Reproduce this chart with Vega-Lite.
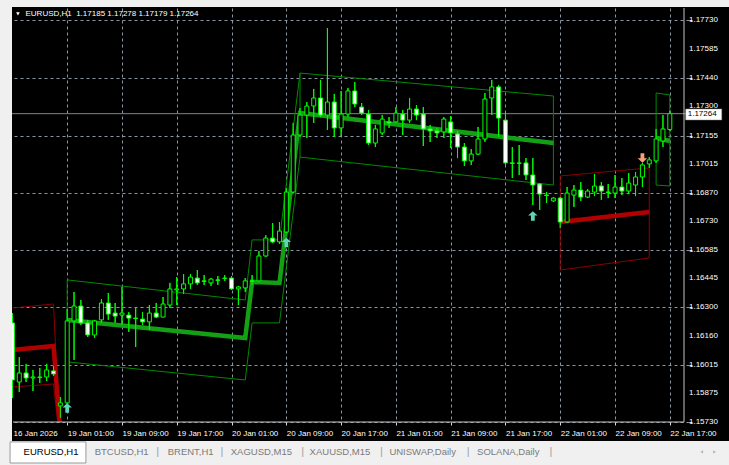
{
 "$schema": "https://vega.github.io/schema/vega-lite/v6.json",
 "width": 681, "height": 414,
 "autosize": "none",
 "padding": {"left": 8, "top": 8, "right": 40, "bottom": 43},
 "background": "#000000",
 "config": {"view": {"fill": "#000000", "stroke": null}, "axis": {"labelOverlap": false, "labelFlush": false, "labelBound": false}},
 "datasets": {
  "candles": [
{"i":-8,"o":1.16223,"h":1.16272,"l":1.15849,"c":1.15939},
{"i":-7,"o":1.15929,"h":1.16053,"l":1.15879,"c":1.15974},
{"i":-6,"o":1.15974,"h":1.16019,"l":1.15929,"c":1.15949},
{"i":-5,"o":1.15949,"h":1.15989,"l":1.15884,"c":1.15954},
{"i":-4,"o":1.15951,"h":1.15999,"l":1.15924,"c":1.15954},
{"i":-3,"o":1.15954,"h":1.16019,"l":1.15934,"c":1.15989},
{"i":-2,"o":1.15984,"h":1.16009,"l":1.15959,"c":1.15969},
{"i":-1,"o":1.15810,"h":1.15854,"l":1.15750,"c":1.15825},
{"i":0,"o":1.15825,"h":1.16292,"l":1.15820,"c":1.16233},
{"i":1,"o":1.16233,"h":1.16377,"l":1.16039,"c":1.16307},
{"i":2,"o":1.16307,"h":1.16337,"l":1.16213,"c":1.16223},
{"i":3,"o":1.16223,"h":1.16238,"l":1.16153,"c":1.16163},
{"i":4,"o":1.16163,"h":1.16238,"l":1.16148,"c":1.16233},
{"i":5,"o":1.16238,"h":1.16342,"l":1.16223,"c":1.16322},
{"i":6,"o":1.16322,"h":1.16372,"l":1.16238,"c":1.16267},
{"i":7,"o":1.16272,"h":1.16322,"l":1.16223,"c":1.16257},
{"i":8,"o":1.16262,"h":1.16402,"l":1.16213,"c":1.16272},
{"i":9,"o":1.16262,"h":1.16277,"l":1.16178,"c":1.16247},
{"i":10,"o":1.16247,"h":1.16297,"l":1.16103,"c":1.16245},
{"i":11,"o":1.16242,"h":1.16277,"l":1.16213,"c":1.16228},
{"i":12,"o":1.16228,"h":1.16312,"l":1.16188,"c":1.16272},
{"i":13,"o":1.16272,"h":1.16322,"l":1.16247,"c":1.16252},
{"i":14,"o":1.16252,"h":1.16352,"l":1.16252,"c":1.16317},
{"i":15,"o":1.16312,"h":1.16422,"l":1.16297,"c":1.16392},
{"i":16,"o":1.16387,"h":1.16451,"l":1.16312,"c":1.16392},
{"i":17,"o":1.16392,"h":1.16466,"l":1.16367,"c":1.16417},
{"i":18,"o":1.16417,"h":1.16466,"l":1.16392,"c":1.16451},
{"i":19,"o":1.16446,"h":1.16486,"l":1.16412,"c":1.16422},
{"i":20,"o":1.16432,"h":1.16461,"l":1.16412,"c":1.16430},
{"i":21,"o":1.16422,"h":1.16446,"l":1.16407,"c":1.16441},
{"i":22,"o":1.16437,"h":1.16456,"l":1.16412,"c":1.16435},
{"i":23,"o":1.16446,"h":1.16461,"l":1.16432,"c":1.16444},
{"i":24,"o":1.16446,"h":1.16456,"l":1.16387,"c":1.16392},
{"i":25,"o":1.16392,"h":1.16407,"l":1.16312,"c":1.16402},
{"i":26,"o":1.16397,"h":1.16446,"l":1.16377,"c":1.16432},
{"i":27,"o":1.16432,"h":1.16461,"l":1.16412,"c":1.16430},
{"i":28,"o":1.16432,"h":1.16581,"l":1.16430,"c":1.16556},
{"i":29,"o":1.16556,"h":1.16660,"l":1.16551,"c":1.16645},
{"i":30,"o":1.16645,"h":1.16720,"l":1.16621,"c":1.16626},
{"i":31,"o":1.16626,"h":1.16725,"l":1.16616,"c":1.16680},
{"i":32,"o":1.16675,"h":1.16894,"l":1.16670,"c":1.16874},
{"i":33,"o":1.16874,"h":1.17218,"l":1.16869,"c":1.17158},
{"i":34,"o":1.17158,"h":1.17292,"l":1.17148,"c":1.17257},
{"i":35,"o":1.17257,"h":1.17322,"l":1.17143,"c":1.17302},
{"i":36,"o":1.17302,"h":1.17387,"l":1.17218,"c":1.17342},
{"i":37,"o":1.17342,"h":1.17432,"l":1.17247,"c":1.17257},
{"i":38,"o":1.17257,"h":1.17690,"l":1.17183,"c":1.17322},
{"i":39,"o":1.17322,"h":1.17362,"l":1.17148,"c":1.17193},
{"i":40,"o":1.17193,"h":1.17377,"l":1.17153,"c":1.17262},
{"i":41,"o":1.17262,"h":1.17392,"l":1.17247,"c":1.17377},
{"i":42,"o":1.17377,"h":1.17422,"l":1.17297,"c":1.17312},
{"i":43,"o":1.17297,"h":1.17317,"l":1.17257,"c":1.17267},
{"i":44,"o":1.17262,"h":1.17282,"l":1.17108,"c":1.17118},
{"i":45,"o":1.17118,"h":1.17208,"l":1.17098,"c":1.17188},
{"i":46,"o":1.17168,"h":1.17257,"l":1.17158,"c":1.17237},
{"i":47,"o":1.17223,"h":1.17247,"l":1.17193,"c":1.17218},
{"i":48,"o":1.17223,"h":1.17297,"l":1.17218,"c":1.17267},
{"i":49,"o":1.17262,"h":1.17282,"l":1.17158,"c":1.17232},
{"i":50,"o":1.17232,"h":1.17342,"l":1.17218,"c":1.17287},
{"i":51,"o":1.17287,"h":1.17307,"l":1.17232,"c":1.17257},
{"i":52,"o":1.17262,"h":1.17297,"l":1.17103,"c":1.17188},
{"i":53,"o":1.17188,"h":1.17208,"l":1.17123,"c":1.17178},
{"i":54,"o":1.17178,"h":1.17193,"l":1.17143,"c":1.17168},
{"i":55,"o":1.17173,"h":1.17247,"l":1.17143,"c":1.17237},
{"i":56,"o":1.17223,"h":1.17252,"l":1.17093,"c":1.17168},
{"i":57,"o":1.17163,"h":1.17178,"l":1.17043,"c":1.17098},
{"i":58,"o":1.17098,"h":1.17118,"l":1.17004,"c":1.17029},
{"i":59,"o":1.17029,"h":1.17088,"l":1.17009,"c":1.17063},
{"i":60,"o":1.17063,"h":1.17198,"l":1.17058,"c":1.17138},
{"i":61,"o":1.17138,"h":1.17367,"l":1.17123,"c":1.17337},
{"i":62,"o":1.17342,"h":1.17432,"l":1.17257,"c":1.17397},
{"i":63,"o":1.17397,"h":1.17407,"l":1.17148,"c":1.17242},
{"i":64,"o":1.17232,"h":1.17272,"l":1.17009,"c":1.17019},
{"i":65,"o":1.17019,"h":1.17098,"l":1.16944,"c":1.17017},
{"i":66,"o":1.17019,"h":1.17108,"l":1.16959,"c":1.17017},
{"i":67,"o":1.17019,"h":1.17043,"l":1.16934,"c":1.16959},
{"i":68,"o":1.16959,"h":1.17043,"l":1.16810,"c":1.16909},
{"i":69,"o":1.16914,"h":1.16919,"l":1.16785,"c":1.16864},
{"i":70,"o":1.16859,"h":1.16874,"l":1.16820,"c":1.16857},
{"i":71,"o":1.16830,"h":1.16849,"l":1.16825,"c":1.16844},
{"i":72,"o":1.16844,"h":1.16849,"l":1.16695,"c":1.16725},
{"i":73,"o":1.16725,"h":1.16899,"l":1.16720,"c":1.16869},
{"i":74,"o":1.16859,"h":1.16909,"l":1.16800,"c":1.16884},
{"i":75,"o":1.16884,"h":1.16924,"l":1.16830,"c":1.16849},
{"i":76,"o":1.16849,"h":1.16889,"l":1.16844,"c":1.16879},
{"i":77,"o":1.16874,"h":1.16964,"l":1.16854,"c":1.16904},
{"i":78,"o":1.16904,"h":1.16924,"l":1.16835,"c":1.16879},
{"i":79,"o":1.16874,"h":1.16914,"l":1.16844,"c":1.16872},
{"i":80,"o":1.16869,"h":1.16959,"l":1.16844,"c":1.16899},
{"i":81,"o":1.16899,"h":1.16944,"l":1.16859,"c":1.16879},
{"i":82,"o":1.16879,"h":1.16969,"l":1.16864,"c":1.16919},
{"i":83,"o":1.16909,"h":1.16974,"l":1.16854,"c":1.16949},
{"i":84,"o":1.16949,"h":1.17019,"l":1.16899,"c":1.17009},
{"i":85,"o":1.17014,"h":1.17048,"l":1.16994,"c":1.17034},
{"i":86,"o":1.17029,"h":1.17188,"l":1.17019,"c":1.17138},
{"i":87,"o":1.17128,"h":1.17257,"l":1.17098,"c":1.17188},
{"i":88,"o":1.17185,"h":1.17278,"l":1.17179,"c":1.17264}
  ],
  "priceTicks": [{"v":1.1573},{"v":1.15875},{"v":1.16015},{"v":1.1616},{"v":1.163},{"v":1.16445},{"v":1.16585},{"v":1.1673},{"v":1.1687},{"v":1.17015},{"v":1.17155},{"v":1.173},{"v":1.1744},{"v":1.17585},{"v":1.1773}],
  "thinG": [
   {"s":"g1u","k":0,"i":0,"p":1.16029},{"s":"g1u","k":1,"i":0,"p":1.16437},{"s":"g1u","k":2,"i":26,"p":1.16337},{"s":"g1u","k":3,"i":27,"p":1.16636},{"s":"g1u","k":4,"i":31,"p":1.16636},{"s":"g1u","k":5,"i":34,"p":1.17466},{"s":"g1u","k":6,"i":71,"p":1.17352},{"s":"g1u","k":7,"i":71,"p":1.16909},
   {"s":"g1l","k":0,"i":0,"p":1.16029},{"s":"g1l","k":1,"i":26,"p":1.15939},{"s":"g1l","k":2,"i":27,"p":1.16223},{"s":"g1l","k":3,"i":31,"p":1.16223},{"s":"g1l","k":4,"i":34,"p":1.17048},{"s":"g1l","k":5,"i":71,"p":1.16909},
   {"s":"g3e","k":0,"i":34,"p":1.17466},{"s":"g3e","k":1,"i":34,"p":1.17048},
   {"s":"g4","k":0,"i":86,"p":1.16909},{"s":"g4","k":1,"i":86,"p":1.17367},{"s":"g4","k":2,"i":88,"p":1.17357},{"s":"g4","k":3,"i":88,"p":1.16904},{"s":"g4","k":4,"i":86,"p":1.16909}
  ],
  "thickG": [
   {"s":"t1","k":0,"i":0,"p":1.16238},{"s":"t1","k":1,"i":26,"p":1.16148},{"s":"t1","k":2,"i":27,"p":1.16427},{"s":"t1","k":3,"i":31,"p":1.16422},{"s":"t1","k":4,"i":34,"p":1.17267},{"s":"t1","k":5,"i":71,"p":1.17118},
   {"s":"t4","k":0,"i":86,"p":1.17143},{"s":"t4","k":1,"i":88,"p":1.17128}
  ],
  "thinR": [
   {"s":"rAu","k":0,"i":-8,"p":1.16297},{"s":"rAu","k":1,"i":-2,"p":1.16317},{"s":"rAu","k":2,"i":-1,"p":1.15610},
   {"s":"rAl","k":0,"i":-8,"p":1.15904},{"s":"rAl","k":1,"i":-2,"p":1.15919},{"s":"rAl","k":2,"i":-1,"p":1.15610},
   {"s":"rB","k":0,"i":72,"p":1.16954},{"s":"rB","k":1,"i":85,"p":1.16994},{"s":"rB","k":2,"i":85,"p":1.16546},{"s":"rB","k":3,"i":72,"p":1.16486},{"s":"rB","k":4,"i":72,"p":1.16954}
  ],
  "thickR": [
   {"s":"rAc","k":0,"i":-8,"p":1.16088},{"s":"rAc","k":1,"i":-2,"p":1.16108},{"s":"rAc","k":2,"i":-1,"p":1.15680},
   {"s":"rBc","k":0,"i":72,"p":1.16725},{"s":"rBc","k":1,"i":85,"p":1.16775}
  ],
  "arrows": [
   {"i":0,"p":1.15800,"d":"up"},{"i":32,"p":1.16623,"d":"up"},{"i":68,"p":1.16755,"d":"up"},{"i":84,"p":1.17044,"d":"down"}
  ]
 },
 "layer": [
  {"data": {"name": "candles"},
   "mark": {"type": "rule", "color": "#00ff00", "strokeWidth": 1, "clip": true},
   "encoding": {
    "x": {"field": "i", "type": "quantitative", "title": null,
     "scale": {"domain": [-7.914, 90.072], "nice": false, "zero": false},
     "axis": {"orient": "bottom", "values": [-7.9,-4,0,4,8,12,16,20,24,28,32,36,40,44,48,52,56,60,64,68,72,76,80,84,88],
      "labelExpr": "datum.value < -5 ? '16 Jan 2026' : (datum.value % 8 != 0 ? '' : (19 + floor((datum.value + 1) / 24)) + ' Jan ' + (((datum.value + 1) % 24) < 10 ? '0' : '') + ((datum.value + 1) % 24) + ':00')",
      "title": null, "domain": false, "grid": true, "gridColor": "#8a95a3", "gridDash": [3,3], "gridWidth": 1,
      "gridOpacity": {"condition": {"test": "datum.value < -5", "value": 0}, "value": 1},
      "tickSize": 3, "tickColor": "#d8d8d8",
      "tickOpacity": {"condition": {"test": "datum.value < -5 || datum.value % 8 != 0", "value": 0}, "value": 1},
      "labelAlign": "left", "labelPadding": 4, "labelFont": "Liberation Sans", "labelFontSize": 8, "labelColor": "#ffffff",
      "labelOverlap": false, "labelFlush": false, "labelBound": false}},
    "y": {"field": "l", "type": "quantitative", "title": null,
     "scale": {"domain": [1.1573, 1.177897], "nice": false, "zero": false},
     "axis": {"orient": "right", "values": [1.1573,1.15875,1.16015,1.1616,1.163,1.16445,1.16585,1.1673,1.1687,1.17015,1.17155,1.173,1.1744,1.17585,1.1773],
      "labels": false, "title": null, "domain": false, "grid": true, "gridColor": "#8a95a3", "gridDash": [3,3], "gridWidth": 1,
      "tickSize": 3, "tickColor": "#d8d8d8"}},
    "y2": {"field": "h"}
   }},
  {"data": {"values": [{}]}, "mark": {"type": "rule", "color": "#7b848d", "strokeWidth": 1},
   "encoding": {"y": {"datum": 1.17264}}},
  {"data": {"name": "thinG"}, "mark": {"type": "line", "color": "#008a00", "strokeWidth": 1, "clip": true},
   "encoding": {"x": {"field": "i", "type": "quantitative", "title": null}, "y": {"field": "p", "type": "quantitative", "title": null}, "detail": {"field": "s"}, "order": {"field": "k"}}},
  {"data": {"name": "thinR"}, "mark": {"type": "line", "color": "#8b0000", "strokeWidth": 1, "clip": true},
   "encoding": {"x": {"field": "i", "type": "quantitative", "title": null}, "y": {"field": "p", "type": "quantitative", "title": null}, "detail": {"field": "s"}, "order": {"field": "k"}}},
  {"data": {"name": "thickG"}, "mark": {"type": "line", "color": "#14a014", "strokeWidth": 4.5, "clip": true},
   "encoding": {"x": {"field": "i", "type": "quantitative", "title": null}, "y": {"field": "p", "type": "quantitative", "title": null}, "detail": {"field": "s"}, "order": {"field": "k"}}},
  {"data": {"name": "thickR"}, "mark": {"type": "line", "color": "#b00000", "strokeWidth": 4.5, "clip": true},
   "encoding": {"x": {"field": "i", "type": "quantitative", "title": null}, "y": {"field": "p", "type": "quantitative", "title": null}, "detail": {"field": "s"}, "order": {"field": "k"}}},
  {"data": {"name": "candles"},
   "mark": {"type": "rule", "color": "#00ff00", "strokeWidth": 1, "clip": true},
   "encoding": {"x": {"field": "i", "type": "quantitative", "title": null}, "y": {"field": "l", "type": "quantitative", "title": null}, "y2": {"field": "h"}}},
  {"data": {"name": "candles"},
   "mark": {"type": "bar", "width": 4, "stroke": "#00ff00", "strokeWidth": 1, "clip": true},
   "encoding": {"x": {"field": "i", "type": "quantitative", "title": null}, "y": {"field": "o", "type": "quantitative", "title": null}, "y2": {"field": "c"},
    "fill": {"condition": {"test": "datum.c >= datum.o", "value": "#000000"}, "value": "#ffffff"}}},
  {"data": {"name": "arrows"},
   "mark": {"type": "point", "filled": true, "size": 90, "opacity": 1, "strokeWidth": 0},
   "encoding": {"x": {"field": "i", "type": "quantitative", "title": null}, "y": {"field": "p", "type": "quantitative", "title": null},
    "shape": {"field": "d", "type": "nominal", "legend": null, "scale": {"domain": ["up","down"], "range": ["M0,-1L1,-0.1L0.4,-0.1L0.4,1L-0.4,1L-0.4,-0.1L-1,-0.1Z", "M0,1L1,0.1L0.4,0.1L0.4,-1L-0.4,-1L-0.4,0.1L-1,0.1Z"]}},
    "color": {"field": "d", "type": "nominal", "legend": null, "scale": {"domain": ["up","down"], "range": ["#5ed6b5", "#f4a07c"]}}}},
  {"data": {"values": [{}]}, "mark": {"type": "rule", "color": "#c4c4c4", "strokeWidth": 1},
   "encoding": {"x": {"datum": 90.072}, "y": {"datum": 1.1573}, "y2": {"datum": 1.177897}}},
  {"data": {"values": [{}]}, "mark": {"type": "rule", "color": "#c4c4c4", "strokeWidth": 1},
   "encoding": {"y": {"datum": 1.1573}, "x": {"datum": -7.914}, "x2": {"datum": 90.072}}},
  {"data": {"name": "priceTicks"}, "mark": {"type": "text", "align": "left", "baseline": "middle", "font": "Liberation Sans", "fontSize": 8, "color": "#ffffff", "clip": false},
   "encoding": {"x": {"datum": 90.8}, "y": {"field": "v", "type": "quantitative", "title": null}, "text": {"field": "v", "type": "quantitative", "format": ".5f"}}},
  {"data": {"values": [{}]}, "mark": {"type": "point", "shape": "triangle-down", "filled": true, "size": 14, "color": "#ffffff", "opacity": 1},
   "encoding": {"x": {"datum": -7.19}, "y": {"datum": 1.1776}}},
  {"data": {"values": [{}]}, "mark": {"type": "text", "text": "EURUSD,H1\u00a0 1.17185 1.17278 1.17179 1.17264", "align": "left", "baseline": "middle", "font": "Liberation Sans", "fontSize": 8, "color": "#ffffff"},
   "encoding": {"x": {"datum": -6.09}, "y": {"datum": 1.1776}}},
  {"data": {"values": [{}]}, "mark": {"type": "rect", "fill": "#ffffff", "stroke": "#9a9a9a", "strokeWidth": 0.5},
   "encoding": {"x": {"datum": 90.32}, "x2": {"datum": 95.58}, "y": {"datum": 1.17287}, "y2": {"datum": 1.17233}}},
  {"data": {"values": [{}]}, "mark": {"type": "text", "text": "1.17264", "align": "left", "baseline": "middle", "font": "Liberation Sans", "fontSize": 8, "color": "#000000"},
   "encoding": {"x": {"datum": 90.62}, "y": {"datum": 1.1726}}},
  {"data": {"values": [{}]}, "mark": {"type": "rect", "fill": "#f0f0f0"},
   "encoding": {"x": {"datum": -10}, "x2": {"datum": 100}, "y": {"datum": 1.1786}, "y2": {"datum": 1.17795}}},
  {"data": {"values": [{}]}, "mark": {"type": "rect", "fill": "#f0f0f0"},
   "encoding": {"x": {"datum": -10}, "x2": {"datum": -8.06}, "y": {"datum": 1.1786}, "y2": {"datum": 1.1540}}},
  {"data": {"values": [{}]}, "mark": {"type": "rect", "fill": "#f0f0f0"},
   "encoding": {"x": {"datum": -10}, "x2": {"datum": 100}, "y": {"datum": 1.15636}, "y2": {"datum": 1.1540}}},
  {"data": {"values": [{}]}, "mark": {"type": "rect", "fill": "#ffffff", "stroke": "#9a9a9a", "strokeWidth": 1},
   "encoding": {"x": {"datum": -8.345}, "x2": {"datum": 2.734}, "y": {"datum": 1.15631}, "y2": {"datum": 1.15526}}},
  {"data": {"values": [{}]}, "mark": {"type": "text", "text": "EURUSD,H1", "align": "left", "baseline": "middle", "font": "Liberation Sans", "fontSize": 9.5, "color": "#000000"},
   "encoding": {"x": {"datum": -6.37}, "y": {"datum": 1.15581}}},
  {"data": {"values": [{}]}, "mark": {"type": "text", "text": "BTCUSD,H1", "align": "left", "baseline": "middle", "font": "Liberation Sans", "fontSize": 9.5, "color": "#7a7a7a"},
   "encoding": {"x": {"datum": 4.02}, "y": {"datum": 1.15581}}},
  {"data": {"values": [{}]}, "mark": {"type": "text", "text": "BRENT,H1", "align": "left", "baseline": "middle", "font": "Liberation Sans", "fontSize": 9.5, "color": "#7a7a7a"},
   "encoding": {"x": {"datum": 14.68}, "y": {"datum": 1.15581}}},
  {"data": {"values": [{}]}, "mark": {"type": "text", "text": "XAGUSD,M15", "align": "left", "baseline": "middle", "font": "Liberation Sans", "fontSize": 9.5, "color": "#7a7a7a"},
   "encoding": {"x": {"datum": 23.88}, "y": {"datum": 1.15581}}},
  {"data": {"values": [{}]}, "mark": {"type": "text", "text": "XAUUSD,M15", "align": "left", "baseline": "middle", "font": "Liberation Sans", "fontSize": 9.5, "color": "#7a7a7a"},
   "encoding": {"x": {"datum": 35.40}, "y": {"datum": 1.15581}}},
  {"data": {"values": [{}]}, "mark": {"type": "text", "text": "UNISWAP,Daily", "align": "left", "baseline": "middle", "font": "Liberation Sans", "fontSize": 9.5, "color": "#7a7a7a"},
   "encoding": {"x": {"datum": 47.05}, "y": {"datum": 1.15581}}},
  {"data": {"values": [{}]}, "mark": {"type": "text", "text": "SOLANA,Daily", "align": "left", "baseline": "middle", "font": "Liberation Sans", "fontSize": 9.5, "color": "#7a7a7a"},
   "encoding": {"x": {"datum": 59.86}, "y": {"datum": 1.15581}}},
  {"data": {"values": [{}]}, "mark": {"type": "text", "text": "|", "align": "center", "baseline": "middle", "font": "Liberation Sans", "fontSize": 11, "color": "#a0a0a0"},
   "encoding": {"x": {"datum": 13.22}, "y": {"datum": 1.15581}}},
  {"data": {"values": [{}]}, "mark": {"type": "text", "text": "|", "align": "center", "baseline": "middle", "font": "Liberation Sans", "fontSize": 11, "color": "#a0a0a0"},
   "encoding": {"x": {"datum": 22.59}, "y": {"datum": 1.15581}}},
  {"data": {"values": [{}]}, "mark": {"type": "text", "text": "|", "align": "center", "baseline": "middle", "font": "Liberation Sans", "fontSize": 11, "color": "#a0a0a0"},
   "encoding": {"x": {"datum": 34.39}, "y": {"datum": 1.15581}}},
  {"data": {"values": [{}]}, "mark": {"type": "text", "text": "|", "align": "center", "baseline": "middle", "font": "Liberation Sans", "fontSize": 11, "color": "#a0a0a0"},
   "encoding": {"x": {"datum": 45.90}, "y": {"datum": 1.15581}}},
  {"data": {"values": [{}]}, "mark": {"type": "text", "text": "|", "align": "center", "baseline": "middle", "font": "Liberation Sans", "fontSize": 11, "color": "#a0a0a0"},
   "encoding": {"x": {"datum": 58.56}, "y": {"datum": 1.15581}}},
  {"data": {"values": [{}]}, "mark": {"type": "text", "text": "|", "align": "center", "baseline": "middle", "font": "Liberation Sans", "fontSize": 11, "color": "#a0a0a0"},
   "encoding": {"x": {"datum": 70.65}, "y": {"datum": 1.15581}}},
  {"data": {"values": [{}]}, "mark": {"type": "point", "shape": "triangle-left", "filled": true, "size": 10, "color": "#b0b0b0", "opacity": 1},
   "encoding": {"x": {"datum": 92.66}, "y": {"datum": 1.15581}}},
  {"data": {"values": [{}]}, "mark": {"type": "point", "shape": "triangle-right", "filled": true, "size": 10, "color": "#b0b0b0", "opacity": 1},
   "encoding": {"x": {"datum": 94.53}, "y": {"datum": 1.15581}}}
 ]
}
